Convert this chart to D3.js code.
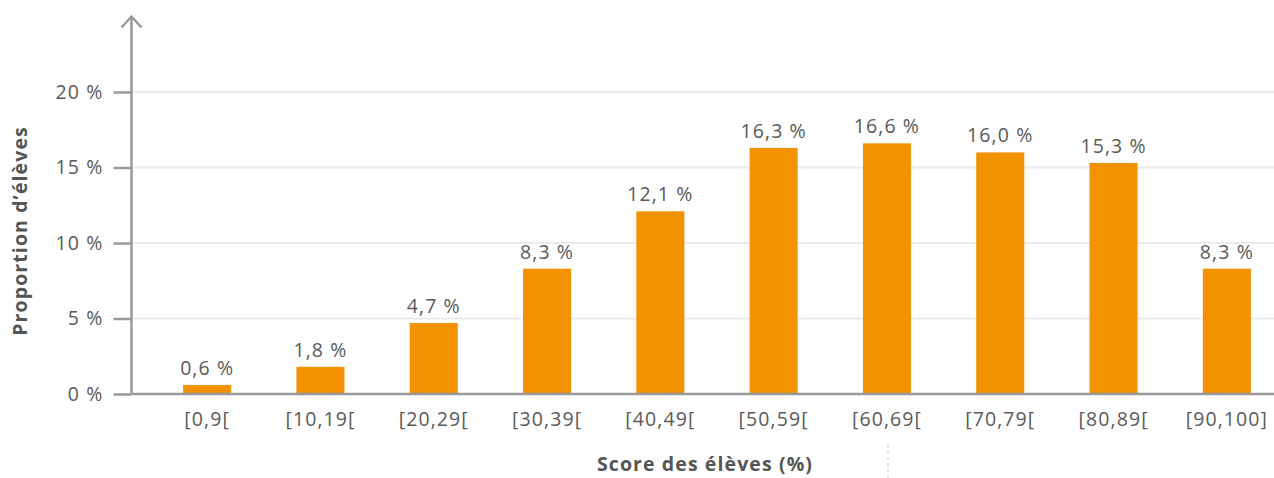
<!DOCTYPE html>
<html lang="fr">
<head>
  <meta charset="UTF-8">
  <title>Score des élèves</title>
  <script src="https://d3js.org/d3.v7.min.js"></script>
  <style>
    body { margin: 0; background: #fff; font-family: "Open Sans", sans-serif; }
    svg { display: block; }
    text { letter-spacing: 1.1px; }
  </style>
</head>
<body>
<svg width="1274" height="478"></svg>
<script>
  const categories = ["[0,9[", "[10,19[", "[20,29[", "[30,39[", "[40,49[", "[50,59[", "[60,69[", "[70,79[", "[80,89[", "[90,100]"];
  const values = [0.6, 1.8, 4.7, 8.3, 12.1, 16.3, 16.6, 16.0, 15.3, 8.3];
  const yTicks = [0, 5, 10, 15, 20];

  const svg = d3.select("svg");
  const axisX = 131.5, baseY = 394;
  const fs = 19.5;
  const fmt = v => d3.format(".1f")(v).replace(".", ",") + " %";

  const y = d3.scaleLinear().domain([0, 25]).range([baseY, 16.5]);
  const x = d3.scaleBand().domain(categories).range([150.5, 1283.5])
    .paddingInner(0.576).paddingOuter(0.288);

  // gridlines
  svg.append("g").selectAll("line").data(yTicks.filter(d => d > 0)).join("line")
    .attr("x1", axisX).attr("x2", 1274)
    .attr("y1", d => y(d)).attr("y2", d => y(d))
    .attr("stroke", "#ebebeb").attr("stroke-width", 2);

  // bars
  svg.append("g").selectAll("rect").data(values).join("rect")
    .attr("x", (d, i) => x(categories[i]))
    .attr("width", x.bandwidth())
    .attr("y", d => y(d))
    .attr("height", d => baseY - y(d))
    .attr("fill", "#f39200");

  // value labels
  svg.append("g").selectAll("text").data(values).join("text")
    .attr("x", (d, i) => x(categories[i]) + x.bandwidth() / 2)
    .attr("y", d => y(d) - 10)
    .attr("text-anchor", "middle")
    .attr("font-size", fs).attr("fill", "#5a5a5a")
    .text(fmt);

  // y axis
  const yAxis = d3.axisLeft(y).tickValues(yTicks).tickSize(18).tickPadding(10)
    .tickFormat(d => d + " %");
  const gy = svg.append("g").attr("transform", `translate(${axisX},0)`).call(yAxis);
  gy.select(".domain").remove();
  gy.selectAll(".tick line").attr("stroke", "#999").attr("stroke-width", 2.5);
  gy.selectAll(".tick text").attr("font-size", fs).attr("fill", "#5a5a5a")
    .attr("font-family", "Open Sans, sans-serif");

  svg.append("line").attr("x1", axisX).attr("x2", axisX)
    .attr("y1", y(25)).attr("y2", baseY)
    .attr("stroke", "#999").attr("stroke-width", 2.5);
  svg.append("path")
    .attr("d", `M${axisX - 10},${y(25) + 11} L${axisX},${y(25)} L${axisX + 10},${y(25) + 11}`)
    .attr("fill", "none").attr("stroke", "#999").attr("stroke-width", 2.5);

  // x axis
  const xAxis = d3.axisBottom(x).tickSize(0).tickPadding(18);
  const gx = svg.append("g").attr("transform", `translate(0,${baseY})`).call(xAxis);
  gx.select(".domain").remove();
  gx.selectAll(".tick text").attr("font-size", fs).attr("fill", "#5a5a5a")
    .attr("font-family", "Open Sans, sans-serif");
  svg.append("line").attr("x1", axisX).attr("x2", 1274)
    .attr("y1", baseY).attr("y2", baseY)
    .attr("stroke", "#999").attr("stroke-width", 2.5);

  // titles
  svg.append("text").attr("x", 705).attr("y", 471)
    .attr("text-anchor", "middle").attr("font-size", fs).attr("font-weight", "bold")
    .attr("fill", "#555").text("Score des élèves (%)");
  svg.append("text").attr("transform", "translate(27,231) rotate(-90)")
    .attr("text-anchor", "middle").attr("font-size", fs).attr("font-weight", "bold")
    .attr("fill", "#555").text("Proportion d’élèves");

  svg.append("line").attr("x1", 888).attr("x2", 888).attr("y1", 445).attr("y2", 478)
    .attr("stroke", "#ccc").attr("stroke-dasharray", "3,3");
</script>
</body>
</html>
